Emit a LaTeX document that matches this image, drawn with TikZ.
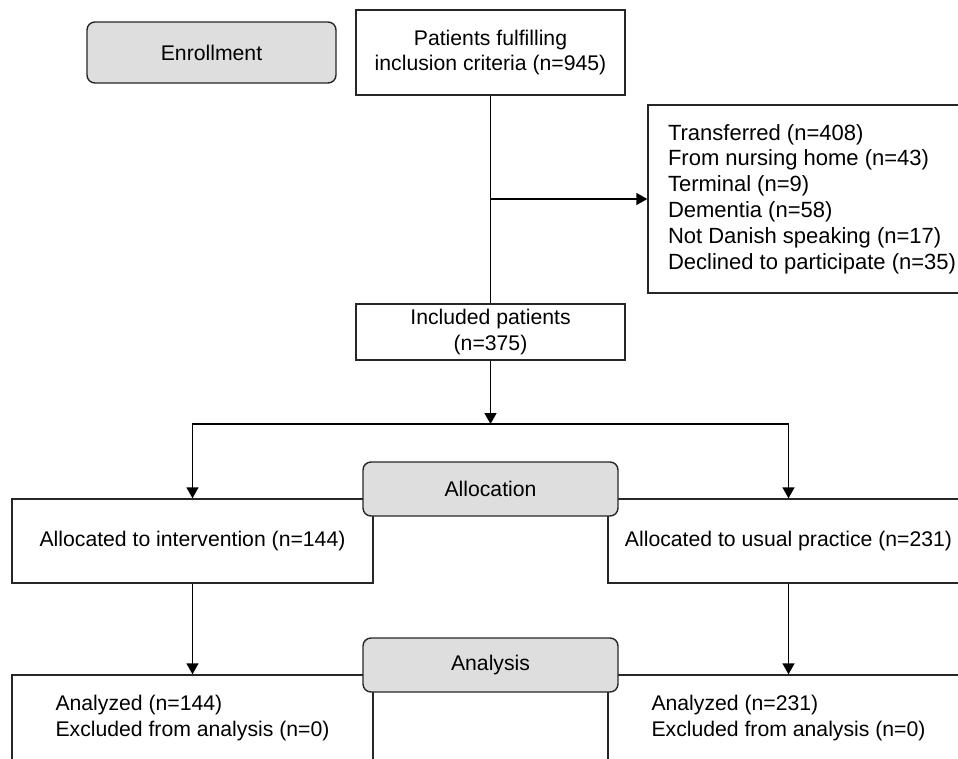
\documentclass[tikz,border=0pt]{standalone}
\usepackage{fontspec}
\setmainfont{Liberation Sans}
\usetikzlibrary{arrows.meta}
\definecolor{phasegray}{HTML}{DEDEDE}
\tikzset{
    box/.style={draw=black!85,line width=1.4pt,fill=white,inner sep=0pt,align=center},
    phase/.style={box,fill=phasegray,rounded corners=8pt,minimum width=255pt,minimum height=54pt},
    arr/.style={-{Triangle[length=11pt,width=12pt]},line width=1.4pt}
}
\begin{document}
\begin{tikzpicture}[x=1pt,y=-1pt,font=\fontsize{21.2}{25.5}\selectfont]
        \useasboundingbox (0,0) rectangle (958,758);
        \clip (0,0) rectangle (958,758);
        % enrollment
        \node [phase,minimum width=249pt,minimum height=61pt] (enroll) at (211.5,52.5) {Enrollment};
        \node [box,minimum width=269pt,minimum height=85pt] (patients) at (490.5,52.5) {Patients fulfilling\\inclusion criteria (n=945)};
        \node [box,align=left,minimum width=328pt,minimum height=188pt,font=\fontsize{22}{25.8}\selectfont] (excluded) at (812,199) {Transferred (n=408)\\From nursing home (n=43)\\Terminal (n=9)\\Dementia (n=58)\\Not Danish speaking (n=17)\\Declined to participate (n=35)};
        \node [box,minimum width=269pt,minimum height=56pt] (included) at (490.5,332) {Included patients\\(n=375)};
        \coordinate (split) at (patients.south |- excluded.west);
        \coordinate (fork) at (490.5,424);
        \draw [line width=1.4pt] (patients) -- (included);
        \draw [arr] (split) -- (excluded);
        \draw [arr] (included) -- (fork);
        % allocation
        \node [box,minimum width=361pt,minimum height=84pt] (intervention) at (192.5,541) {Allocated to intervention (n=144)};
        \node [box,minimum width=361pt,minimum height=84pt] (usual) at (788.5,541) {Allocated to usual practice (n=231)};
        \node [phase] (allocation) at (490.5,489) {Allocation};
        \draw [arr] (fork) -| (intervention.north);
        \draw [arr] (fork) -| (usual.north);
        % analysis
        \node [box,align=left,minimum width=361pt,minimum height=86pt] (analyzedI) at (192.5,718) {Analyzed (n=144)\\Excluded from analysis (n=0)};
        \node [box,align=left,minimum width=361pt,minimum height=86pt] (analyzedU) at (788.5,718) {Analyzed (n=231)\\Excluded from analysis (n=0)};
        \node [phase] (analysis) at (490.5,665) {Analysis};
        \draw [arr] (intervention) -- (analyzedI);
        \draw [arr] (usual) -- (analyzedU);
\end{tikzpicture}
\end{document}
